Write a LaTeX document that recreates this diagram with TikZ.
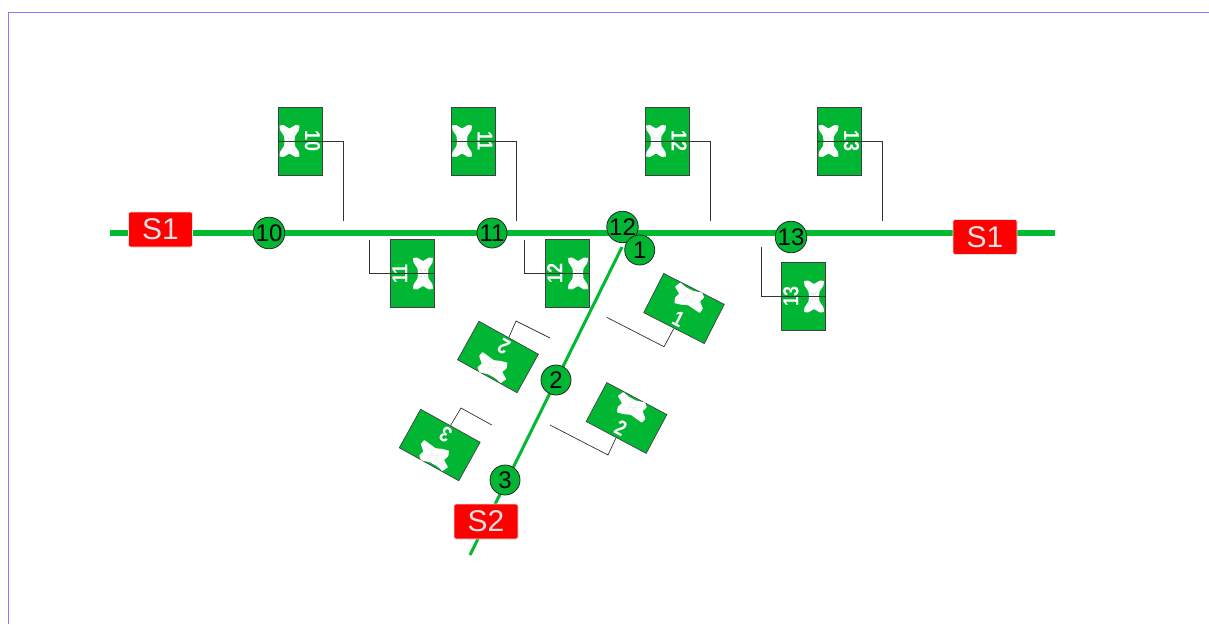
\documentclass[tikz,border=0pt]{standalone}
\usepackage{fontspec}
\setmainfont{Liberation Sans}
\definecolor{trk}{RGB}{0,186,50}
\definecolor{signg}{RGB}{0,182,50}
\definecolor{frm}{RGB}{125,125,250}
\tikzset{
 signbox/.style={draw=black!75,line width=.7pt,fill=signg,minimum width=68pt,minimum height=44pt,inner sep=0pt,transform shape},
 signtext/.style={text=white,font=\fontsize{18}{18}\selectfont\bfseries,inner sep=0pt,transform shape},
 station/.style={circle,draw=black!85,line width=.8pt,fill=signg,minimum size=30pt,inner sep=0pt,font=\fontsize{24}{24}\selectfont,text=black},
 sbox/.style={rounded corners=2pt,draw=black!12,line width=.8pt,fill=red,minimum width=64pt,minimum height=35pt,inner sep=0pt,text=black!12,font=\fontsize{30}{30}\selectfont},
 track/.style={draw=trk,line width=5.5pt},
 branch/.style={draw=trk,line width=3pt},
 lead/.style={draw=black!80,line width=.7pt},
}
\newcommand{\hideX}{%
 \fill[white,rounded corners=.5pt] (-16,-6)--(-15.5,-10)--(-11,-9.5)--(-5,-5.5)--(0,-5)--(5,-5.5)--(11,-9.5)--(15.5,-10)--(16,-6)--(12.5,0)--(16,6)--(15.5,10)--(11,9.5)--(5,5.5)--(0,5)--(-5,5.5)--(-11,9.5)--(-15.5,10)--(-16,6)--(-12.5,0)--cycle;
 \draw[black!35,line width=.25pt,densely dotted] (-9,-5)--(9,5) (-9,5)--(9,-5) (-3,-4)--(-3,4) (3,-4)--(3,4);}
\newcommand{\hideS}{%
 \begin{scope}[yscale=.88,yshift=1pt]
 \fill[white,rounded corners=.6pt] (-15,-11)--(-8,-9)--(0,-9)--(9,-12)--(13,-8)--(11,-2)--(17,4)--(16,10)--(9,9)--(2,8)--(-4,11)--(-11,13)--(-13,7)--(-11,1)--(-18,-4)--cycle;
 \draw[black!35,line width=.25pt,densely dotted] (-9,-5)--(9,5) (-9,5)--(9,-5) (-3,-6)--(-3,6) (3,-6)--(3,6);
 \end{scope}}
% name, cx, cy, rotation, label, label offset, hide macro
\newcommand{\signat}[7]{%
 \begin{scope}[shift={(#2,#3)},rotate=#4]
  \node[signbox] (#1) at (0,0) {};
  \begin{scope}[shift={(0,-#6)}]#7\end{scope}
  \node[signtext] (#1t) at (0,{1.1*#6}) {\scalebox{1}[1.2]{#5}};
 \end{scope}}
\begin{document}
\begin{tikzpicture}[x=1pt,y=-1pt]
\useasboundingbox (0,0) rectangle (1209,624);
\coordinate (frameA) at (1209,12);
\coordinate (frameB) at (8.5,12);
\coordinate (frameC) at (8.5,624);
\draw[frm,line width=.9pt] (frameA)--(frameB)--(frameC);

\coordinate (mainL) at (110,233);
\coordinate (mainR) at (1055,233);
\coordinate (brT) at (622,247);
\coordinate (brB) at (470,555);
\draw[track] (mainL)--(mainR);
\draw[branch] (brT)--(brB);

\node[sbox] (s1a) at (160.5,229.5) {S1};
\node[sbox] (s1b) at (985,237) {S1};
\node[sbox] (s2) at (486,521.5) {S2};

\node[station] (n10) at (269,233) {10};
\node[station] (n11) at (492,233) {11};
\node[station] (n12) at (622.5,227) {12};
\node[station] (n13) at (791,237) {13};
\node[station] (n1) at (639.7,250) {1};
\node[station] (n2) at (556,380) {2};
\node[station] (n3) at (505,480) {3};

\signat{a10}{300.5}{141}{-90}{10}{-11}{\hideX}
\signat{a11}{473}{141}{-90}{11}{-11}{\hideX}
\signat{a12}{667}{141}{-90}{12}{-11}{\hideX}
\signat{a13}{839.5}{141}{-90}{13}{-11}{\hideX}
\signat{b11}{412}{273.5}{90}{11}{-11}{\hideX}
\signat{b12}{567}{273.5}{90}{12}{-11}{\hideX}
\signat{b13}{803}{296.5}{90}{13}{-11}{\hideX}
\signat{c1}{684}{308.5}{-27}{1}{11}{\hideS}
\signat{c2}{626.5}{418}{-28}{2}{11}{\hideS}
\signat{d2}{498}{357}{151}{2}{11}{\hideS}
\signat{d3}{439.7}{445}{151}{3}{11}{\hideS}

\coordinate (e10) at (343,221);
\coordinate (e11) at (516,221);
\coordinate (e12) at (710,221);
\coordinate (e13) at (882,221);
\draw[lead] (a10.south) -- (e10 |- a10.south) -- (e10);
\draw[lead] (a11.south) -- (e11 |- a11.south) -- (e11);
\draw[lead] (a12.south) -- (e12 |- a12.south) -- (e12);
\draw[lead] (a13.south) -- (e13 |- a13.south) -- (e13);
\coordinate (f11) at (369,240);
\coordinate (f12) at (524,240);
\coordinate (f13) at (761,247);
\draw[lead] (b11.south) -- (f11 |- b11.south) -- (f11);
\draw[lead] (b12.south) -- (f12 |- b12.south) -- (f12);
\draw[lead] (b13.south) -- (f13 |- b13.south) -- (f13);
\coordinate (g1a) at (664,346.7);
\coordinate (g1b) at (606.7,317.3);
\coordinate (g2a) at (608,455);
\coordinate (g2b) at (550,425);
\coordinate (h2a) at (516,321);
\coordinate (h2b) at (550,338);
\coordinate (h3a) at (461,408);
\coordinate (h3b) at (491.7,425);
\draw[lead] (c1.south) -- (g1a) -- (g1b);
\draw[lead] (c2.south) -- (g2a) -- (g2b);
\draw[lead] (d2.south) -- (h2a) -- (h2b);
\draw[lead] (d3.south) -- (h3a) -- (h3b);
\end{tikzpicture}
\end{document}
